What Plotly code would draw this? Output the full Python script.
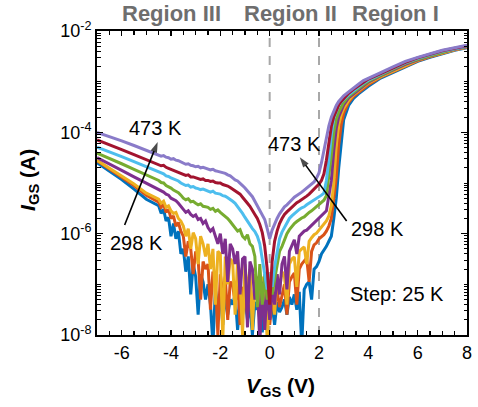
import plotly.graph_objects as go

# Gate voltage sweep (V)
VGS = [-7, -6.5, -6, -5.5, -5,
       -4.5, -4.4, -4.3, -4.2, -4.1, -4.0, -3.9, -3.8, -3.7, -3.6,
       -3.5, -3.4, -3.3, -3.2, -3.1, -3.0, -2.9, -2.8, -2.7, -2.6,
       -2.5, -2.4, -2.3, -2.2, -2.1, -2.0, -1.9, -1.8, -1.7, -1.6,
       -1.5, -1.4, -1.3, -1.2, -1.1, -1.0, -0.9, -0.8, -0.7, -0.6,
       -0.5, -0.4, -0.3, -0.2, -0.1, 0.0, 0.1, 0.2, 0.3, 0.4,
       0.5, 0.6, 0.7, 0.8, 0.9, 1.0, 1.1, 1.2, 1.3, 1.4,
       1.5, 1.6, 1.7, 1.8, 1.9, 2.0, 2.1, 2.2, 2.3, 2.4,
       2.5, 2.6, 2.7, 2.8, 2.9, 3.0,
       3.2, 3.4, 3.6, 3.8, 4.0, 4.5, 5.0, 5.5, 6.0, 6.5, 7.0, 7.5, 8.0]

# log10 of I_GS (A)
LOGI_298K = [-4.60, -4.76, -4.93, -5.12, -5.32,
             -5.45, -5.60, -5.52, -5.75, -5.68, -6.05, -5.80, -6.10, -5.95, -6.40,
             -6.30, -6.75, -6.45, -7.20, -6.60, -6.85, -7.60, -6.80, -6.95, -7.30,
             -7.00, -7.40, -8.20, -7.10, -7.50, -7.20, -7.80, -7.15, -7.60, -7.30,
             -7.40, -7.20, -7.90, -7.35, -7.60, -7.25, -7.70, -7.40, -8.00, -7.35,
             -7.50, -7.30, -7.95, -7.45, -7.60, -7.70, -7.40, -7.80, -7.35, -7.55,
             -7.45, -7.30, -7.60, -7.25, -7.40, -7.20, -7.50, -7.15, -8.20, -7.10,
             -7.00, -6.95, -7.30, -6.70, -6.65, -6.55, -6.40, -6.33, -6.25, -6.15,
             -6.05, -5.70, -5.30, -4.70, -4.15, -3.75,
             -3.47, -3.33, -3.24, -3.16, -3.09, -2.93, -2.82, -2.71, -2.60, -2.52, -2.45, -2.38, -2.33]
LOGI_323K = [-4.56, -4.72, -4.88, -5.05, -5.24,
             -5.38, -5.48, -5.42, -5.58, -5.52, -5.70, -5.65, -5.85, -5.78, -5.95,
             -6.05, -6.45, -6.15, -6.30, -6.80, -6.35, -6.50, -7.30, -6.55, -6.70,
             -6.60, -7.50, -6.75, -6.90, -8.00, -6.80, -7.20, -6.85, -7.70, -6.95,
             -7.00, -7.40, -6.90, -7.80, -7.05, -7.20, -7.60, -7.00, -7.45, -7.15,
             -7.30, -7.70, -7.10, -7.55, -7.25, -7.80, -7.35, -7.50, -7.10, -7.45,
             -7.20, -7.00, -7.60, -6.95, -6.85, -6.78, -7.40, -6.70, -6.60, -6.55,
             -6.48, -6.95, -6.35, -6.22, -6.18, -6.10, -6.06, -6.02, -5.95, -5.85,
             -5.70, -5.35, -4.90, -4.25, -3.85, -3.62,
             -3.41, -3.29, -3.21, -3.13, -3.06, -2.91, -2.80, -2.69, -2.59, -2.51, -2.44, -2.37, -2.32]
LOGI_348K = [-4.55, -4.70, -4.86, -5.02, -5.20,
             -5.32, -5.40, -5.36, -5.48, -5.45, -5.55, -5.60, -5.58, -5.70, -5.75,
             -5.85, -6.05, -5.90, -6.30, -5.98, -6.10, -6.60, -6.05, -6.20, -6.45,
             -6.20, -6.70, -6.30, -7.40, -6.35, -6.40, -8.10, -6.45, -7.00, -6.50,
             -6.55, -7.60, -6.50, -6.90, -8.00, -6.60, -7.20, -6.70, -7.90, -6.80,
             -6.90, -7.50, -6.85, -7.10, -8.10, -7.20, -6.95, -7.60, -6.80, -7.10,
             -6.75, -6.85, -7.40, -6.60, -6.50, -6.46, -7.05, -6.35, -6.30, -6.26,
             -6.60, -6.15, -6.08, -6.02, -5.99, -5.93, -5.87, -5.82, -5.75, -5.65,
             -5.45, -5.00, -4.25, -3.85, -3.65, -3.53,
             -3.37, -3.26, -3.18, -3.11, -3.03, -2.90, -2.79, -2.68, -2.58, -2.50, -2.43, -2.37, -2.32]
LOGI_373K = [-4.50, -4.62, -4.75, -4.88, -5.00,
             -5.12, -5.15, -5.18, -5.22, -5.24, -5.30, -5.32, -5.35, -5.40, -5.45,
             -5.52, -5.58, -5.55, -5.62, -5.66, -5.63, -5.72, -5.70, -5.80, -5.75,
             -5.88, -5.95, -5.90, -6.05, -6.20, -6.00, -6.40, -6.10, -6.95, -6.20,
             -6.30, -6.60, -6.35, -7.20, -6.50, -6.45, -7.85, -6.55, -6.70, -7.30,
             -6.85, -8.20, -6.95, -7.90, -7.05, -7.70, -7.10, -7.40, -6.80, -7.20,
             -6.60, -6.45, -7.10, -6.35, -6.25, -6.12, -6.40, -6.05, -6.00, -5.95,
             -5.93, -5.88, -5.84, -5.78, -5.74, -5.70, -5.65, -5.60, -5.55, -5.25,
             -4.95, -4.35, -3.92, -3.69, -3.56, -3.46,
             -3.32, -3.24, -3.16, -3.09, -3.01, -2.88, -2.77, -2.66, -2.57, -2.49, -2.42, -2.36, -2.31]
LOGI_398K = [-4.41, -4.51, -4.62, -4.73, -4.84,
             -4.95, -4.99, -5.00, -5.05, -5.07, -5.10, -5.14, -5.17, -5.19, -5.24,
             -5.30, -5.33, -5.31, -5.37, -5.36, -5.40, -5.43, -5.41, -5.46, -5.47,
             -5.48, -5.52, -5.50, -5.56, -5.53, -5.58, -5.62, -5.66, -5.70, -5.76,
             -5.82, -5.88, -5.95, -5.92, -6.05, -6.10, -6.02, -6.20, -6.25, -6.45,
             -7.45, -6.60, -7.40, -6.80, -7.30, -6.90, -7.20, -6.91, -6.60, -6.35,
             -6.25, -6.12, -6.00, -5.92, -5.85, -5.80, -5.76, -5.72, -5.69, -5.67,
             -5.62, -5.58, -5.55, -5.51, -5.47, -5.43, -5.38, -5.34, -5.25, -4.90,
             -4.45, -4.00, -3.74, -3.60, -3.49, -3.41,
             -3.29, -3.21, -3.13, -3.06, -2.99, -2.87, -2.76, -2.64, -2.56, -2.49, -2.41, -2.35, -2.30]
LOGI_423K = [-4.29, -4.38, -4.48, -4.58, -4.68,
             -4.78, -4.81, -4.82, -4.86, -4.87, -4.90, -4.92, -4.95, -4.96, -5.00,
             -5.03, -5.05, -5.04, -5.08, -5.07, -5.10, -5.11, -5.13, -5.12, -5.14,
             -5.15, -5.18, -5.16, -5.20, -5.21, -5.22, -5.25, -5.26, -5.29, -5.32,
             -5.36, -5.40, -5.46, -5.52, -5.60, -5.68, -5.76, -5.84, -5.90, -5.96,
             -6.05, -6.20, -6.50, -6.85, -7.10, -6.80, -7.05, -6.66, -6.35, -6.10,
             -5.97, -5.87, -5.78, -5.70, -5.65, -5.60, -5.56, -5.52, -5.49, -5.47,
             -5.43, -5.40, -5.37, -5.34, -5.31, -5.28, -5.24, -5.20, -4.95, -4.55,
             -4.05, -3.72, -3.58, -3.47, -3.40, -3.35,
             -3.26, -3.18, -3.10, -3.03, -2.97, -2.85, -2.74, -2.63, -2.54, -2.47, -2.40, -2.35, -2.30]
LOGI_448K = [-4.15, -4.24, -4.34, -4.44, -4.54,
             -4.63, -4.66, -4.65, -4.69, -4.71, -4.73, -4.74, -4.77, -4.78, -4.81,
             -4.83, -4.85, -4.84, -4.88, -4.88, -4.90, -4.91, -4.93, -4.92, -4.95,
             -4.95, -4.97, -4.96, -4.99, -5.00, -5.00, -5.03, -5.04, -5.06, -5.09,
             -5.12, -5.16, -5.19, -5.22, -5.28, -5.35, -5.40, -5.46, -5.53, -5.62,
             -5.70, -5.82, -5.98, -6.25, -6.70, -7.40, -6.55, -6.15, -5.95, -5.80,
             -5.70, -5.62, -5.57, -5.52, -5.47, -5.42, -5.39, -5.36, -5.33, -5.30,
             -5.26, -5.22, -5.17, -5.12, -5.08, -5.02, -4.95, -4.82, -4.55, -4.18,
             -3.88, -3.69, -3.56, -3.46, -3.39, -3.33,
             -3.23, -3.15, -3.08, -3.01, -2.95, -2.84, -2.73, -2.62, -2.53, -2.46, -2.39, -2.34, -2.29]
LOGI_473K = [-4.00, -4.08, -4.17, -4.26, -4.35,
             -4.45, -4.47, -4.46, -4.49, -4.50, -4.53, -4.52, -4.55, -4.56, -4.58,
             -4.61, -4.63, -4.62, -4.65, -4.66, -4.68, -4.67, -4.70, -4.69, -4.71,
             -4.72, -4.74, -4.73, -4.76, -4.77, -4.78, -4.80, -4.81, -4.84, -4.86,
             -4.90, -4.94, -4.96, -5.00, -5.05, -5.10, -5.15, -5.20, -5.27, -5.36,
             -5.45, -5.55, -5.65, -5.72, -5.90, -6.10, -5.93, -5.80, -5.70, -5.61,
             -5.53, -5.47, -5.43, -5.37, -5.33, -5.28, -5.25, -5.21, -5.18, -5.14,
             -5.10, -5.07, -5.03, -4.98, -4.90, -4.80, -4.60, -4.35, -4.10, -3.87,
             -3.70, -3.57, -3.47, -3.39, -3.33, -3.28,
             -3.20, -3.12, -3.05, -2.98, -2.93, -2.82, -2.71, -2.60, -2.52, -2.45, -2.38, -2.33, -2.28]

TEMPS = ["298 K", "323 K", "348 K", "373 K", "398 K", "423 K", "448 K", "473 K"]
SERIES = [LOGI_298K, LOGI_323K, LOGI_348K, LOGI_373K, LOGI_398K, LOGI_423K, LOGI_448K, LOGI_473K]
COLORS = ["#0072BD", "#D95319", "#EDB120", "#7E2F8E", "#77AC30", "#4DBEEE", "#A2142F", "#8A7BC9"]

X_RANGE = [-7, 8]
LOG_Y_RANGE = [-8, -2]
X_TICKS = [-6, -4, -2, 0, 2, 4, 6, 8]
X_TICK_TEXT = ["-6", "-4", "-2", "0", "2", "4", "6", "8"]
Y_TICKS = [1e-8, 1e-6, 1e-4, 1e-2]
Y_TICK_TEXT = ["10<sup>-8</sup>", "10<sup>-6</sup>", "10<sup>-4</sup>", "10<sup>-2</sup>"]
REGION_LABELS = ["Region III", "Region II", "Region I"]
REGION_X = [-3.97, 0.85, 5.11]
BOUNDARIES = [0, 2]

FONT = "Liberation Sans, Arial, sans-serif"

fig = go.Figure()
for xb in BOUNDARIES:
    fig.add_shape(type="line", x0=xb, x1=xb, y0=0, y1=1, xref="x", yref="paper",
                  line=dict(color="#A8A8A8", width=2, dash="dash"), layer="below")

for t, c, s in zip(TEMPS, COLORS, SERIES):
    assert len(s) == len(VGS)
    fig.add_trace(go.Scatter(x=VGS, y=[10 ** v for v in s], mode="lines",
                             line=dict(color=c, width=3), name=t,
                             showlegend=False, hoverinfo="skip"))

fig.update_xaxes(range=X_RANGE, tickmode="array", tickvals=X_TICKS, ticktext=X_TICK_TEXT,
                 ticks="inside", ticklen=5, tickwidth=1.5, tickcolor="black",
                 minor=dict(dtick=0.5, tick0=0, ticks="inside", ticklen=4, tickwidth=1.2, tickcolor="black"),
                 showline=True, linecolor="black", linewidth=2, mirror="allticks",
                 showgrid=False, zeroline=False, automargin=False,
                 tickfont=dict(family=FONT, size=18, color="black"))
fig.update_yaxes(type="log", range=LOG_Y_RANGE, tickmode="array", tickvals=Y_TICKS, ticktext=Y_TICK_TEXT,
                 ticks="inside", ticklen=6, tickwidth=1.5, tickcolor="black",
                 minor=dict(dtick="D1", ticks="inside", ticklen=3.5, tickwidth=1, tickcolor="black"),
                 showline=True, linecolor="black", linewidth=2, mirror="allticks",
                 showgrid=False, zeroline=False, automargin=False,
                 tickfont=dict(family=FONT, size=18, color="black"))

ann = []
txt_font = dict(family=FONT, size=20, color="black")
for tx, ty, tt in [(-4.62, -3.91, "473 K"), (-5.39, -6.18, "298 K"),
                   (1.01, -4.23, "473 K"), (4.38, -5.91, "298 K"),
                   (5.15, -7.19, "Step: 25 K")]:
    ann.append(dict(x=tx, y=ty, xref="x", yref="y", text=tt, showarrow=False,
                    font=txt_font, xanchor="center", yanchor="middle"))
for rx, rt in zip(REGION_X, REGION_LABELS):
    ann.append(dict(x=rx, y=1.056, xref="x", yref="paper", text="<b>" + rt + "</b>", showarrow=False,
                    font=dict(family=FONT, size=22, color="#6E6E6E"), xanchor="center", yanchor="middle"))
ann.append(dict(x=-0.184, y=0.51, xref="paper", yref="paper", textangle=-90,
                text="<b><i>I</i><sub>GS</sub> (A)</b>", showarrow=False,
                font=dict(family=FONT, size=21, color="black"), xanchor="center", yanchor="middle"))
ann.append(dict(x=0.497, y=-0.17, xref="paper", yref="paper",
                text="<b><i>V</i><sub>GS</sub> (V)</b>", showarrow=False,
                font=dict(family=FONT, size=21, color="black"), xanchor="center", yanchor="middle"))

# temperature-trend arrows (tail near "298 K", head near "473 K")
ARROWS = [((-5.88, -5.83), (-4.54, -4.19)), ((3.12, -5.75), (1.22, -4.49))]
for (ax0, l0), (ax1, l1) in ARROWS:
    fig.add_trace(go.Scatter(x=[ax0, ax1], y=[10 ** l0, 10 ** l1], mode="lines+markers",
                             line=dict(color="black", width=1.6),
                             marker=dict(symbol=["circle", "arrow"], size=[0, 11], angleref="previous",
                                         color="black", line=dict(width=0)),
                             showlegend=False, hoverinfo="skip"))

fig.update_layout(width=478, height=407, margin=dict(l=97, r=11, t=31, b=72),
                  paper_bgcolor="white", plot_bgcolor="white", annotations=ann,
                  font=dict(family=FONT, color="black"))

fig.write_html("out.html", config={"displayModeBar": False, "staticPlot": True},
               post_script="document.body.style.margin='0px';")
